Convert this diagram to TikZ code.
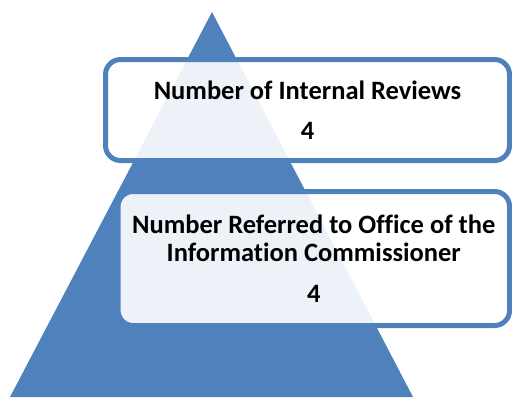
\documentclass[tikz,border=0pt]{standalone}
\usepackage{fontspec}
\setmainfont{Carlito}[Ligatures=NoCommon]
\usepackage{tikz}

\definecolor{pyrblue}{HTML}{4F81BD}

\tikzset{
  levelbox/.style={draw=pyrblue, line width=5pt, rounded corners=15pt,
    fill=white, fill opacity=0.9, text opacity=1, align=center,
    font=\bfseries\fontsize{26.5}{28}\selectfont, inner sep=0pt}
}

\begin{document}
\begin{tikzpicture}[x=1pt,y=-1pt]
                % Fix the page to the reference size
                \useasboundingbox (0,0) rectangle (512,397);
                % Draw the pyramid
                \fill[pyrblue] (212,12) -- (10,397) -- (413,397) -- cycle;
                % Draw the upper level box
                \node[levelbox, minimum width=404pt, minimum height=101pt]
                  (reviews) at (307.5,110) {Number of Internal Reviews\\[12pt]4};
                % Draw the lower level box
                \node[levelbox, minimum width=391.5pt, minimum height=134pt]
                  (referred) at (313.8,258.5)
                  {Number Referred to Office of the\\Information Commissioner\\[13pt]4};
            \end{tikzpicture}
\end{document}
